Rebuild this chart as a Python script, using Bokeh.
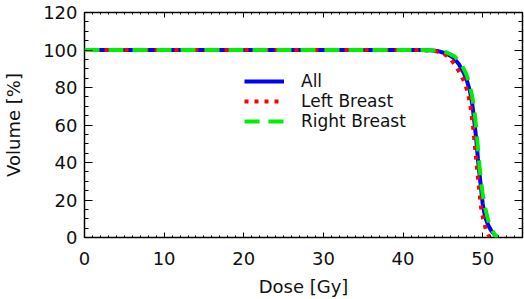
from bokeh.plotting import figure
from bokeh.models import Range1d, LinearAxis, Legend, LegendItem, FixedTicker, CustomJSTickFormatter
from bokeh.embed import file_html
from bokeh.resources import INLINE

# Data
dose_all = [0, 42, 43.5, 44.5, 45.5, 46.3, 47.0, 47.6, 48.0, 48.4, 48.7, 49.0, 49.2, 49.4, 49.6, 49.8, 50.0, 50.3, 50.7, 51.1, 51.5, 51.9]
vol_all = [100, 100, 99.8, 99.3, 98, 96, 92.5, 88, 84, 78, 71, 60, 52, 42, 34, 26, 18, 11, 6.5, 3.5, 1.5, 0]

dose_left = [0, 42, 43.5, 44.5, 45.3, 46.0, 46.7, 47.3, 47.8, 48.2, 48.5, 48.8, 49.0, 49.2, 49.4, 49.6, 49.8, 50.1, 50.4, 50.7, 50.9]
vol_left = [100, 100, 99.7, 99, 97.5, 95, 91, 86.5, 82, 76, 69, 59, 50, 41, 32, 24, 16, 9, 4.5, 1.5, 0]

dose_right = [0, 42, 43.5, 44.5, 45.5, 46.5, 47.3, 47.9, 48.3, 48.7, 49.0, 49.2, 49.4, 49.6, 49.8, 50.0, 50.3, 50.7, 51.1, 51.5, 51.9]
vol_right = [100, 100, 99.9, 99.6, 98.7, 96.5, 92.5, 87.5, 82.5, 75, 66, 58, 48, 38, 30, 23, 16, 9, 4.5, 1.5, 0]

labels = ["All", "Left Breast", "Right Breast"]
x_ticks = [0, 10, 20, 30, 40, 50]
y_ticks = [0, 20, 40, 60, 80, 100, 120]

FONT = "DejaVu Sans"

p = figure(width=524, height=299, output_backend="svg", toolbar_location=None,
           x_range=Range1d(0, 55), y_range=Range1d(0, 120),
           min_border_left=83, min_border_right=2, min_border_top=12, min_border_bottom=61,
           x_axis_location=None, y_axis_location=None)
p.grid.visible = False
p.outline_line_color = "black"
p.outline_line_width = 1.5
p.background_fill_color = "white"
p.border_fill_color = "white"

x_minor = [v for v in range(0, 56)]
y_minor = [v for v in range(0, 121, 5)]

def style_axis(ax, tick_in, minor_in):
    ax.axis_line_color = None
    ax.major_tick_in = tick_in
    ax.major_tick_out = 0
    ax.minor_tick_in = minor_in
    ax.minor_tick_out = 0
    ax.major_tick_line_color = "black"
    ax.minor_tick_line_color = "black"

def label_axis(ax, title, standoff, title_standoff):
    ax.axis_label = title
    ax.major_label_text_font = FONT
    ax.major_label_text_font_size = "18px"
    ax.major_label_text_color = "#111111"
    ax.major_label_standoff = standoff
    ax.axis_label_text_font = FONT
    ax.axis_label_text_font_size = "18px"
    ax.axis_label_text_font_style = "normal"
    ax.axis_label_text_color = "#111111"
    ax.axis_label_standoff = title_standoff

def blank(ax):
    ax.formatter = CustomJSTickFormatter(code="return ''")
    ax.major_label_standoff = 0

xb = LinearAxis(ticker=FixedTicker(ticks=x_ticks, minor_ticks=x_minor))
style_axis(xb, 5, 2)
label_axis(xb, "Dose [Gy]", 14, 8)
xt = LinearAxis(ticker=FixedTicker(ticks=x_ticks, minor_ticks=x_minor))
style_axis(xt, 5, 2)
blank(xt)
yl = LinearAxis(ticker=FixedTicker(ticks=y_ticks, minor_ticks=y_minor))
style_axis(yl, 8, 4)
label_axis(yl, "Volume [%]", 7, 16)
yr = LinearAxis(ticker=FixedTicker(ticks=y_ticks, minor_ticks=y_minor))
style_axis(yr, 8, 4)
blank(yr)

p.add_layout(xb, "below")
p.add_layout(xt, "above")
p.add_layout(yl, "left")
p.add_layout(yr, "right")

r_all = p.line(dose_all, vol_all, line_color="#0000ff", line_width=4)
r_left = p.line(dose_left, vol_left, line_color="#ff0000", line_width=4,
                line_dash="4 6")
r_right = p.line(dose_right, vol_right, line_color="#00ee00", line_width=4,
                 line_dash="15 9")

legend = Legend(items=[LegendItem(label=labels[0], renderers=[r_all]),
                       LegendItem(label=labels[1], renderers=[r_left]),
                       LegendItem(label=labels[2], renderers=[r_right])],
                location=(160, 106), border_line_color=None,
                background_fill_alpha=0, padding=0, margin=0, spacing=0,
                glyph_width=40, glyph_height=18, label_height=18,
                label_standoff=17, label_text_font=FONT,
                label_text_font_size="17px", label_text_color="#111111")
p.add_layout(legend, "center")

open("out.html", "w").write(file_html(p, INLINE))
